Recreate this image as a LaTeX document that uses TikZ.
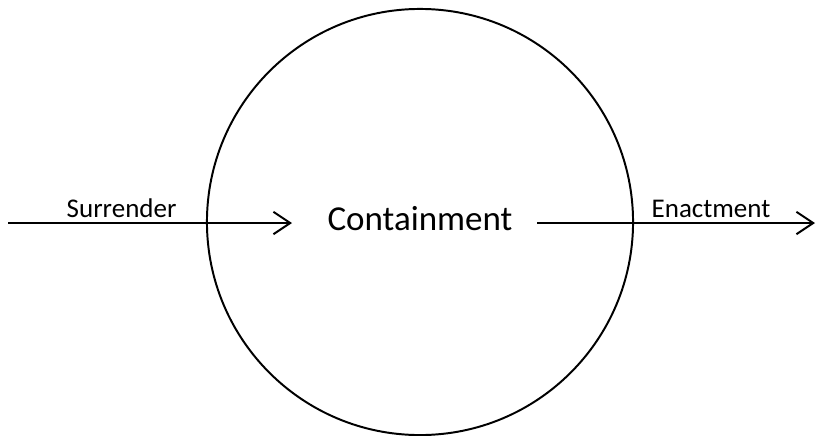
\documentclass[tikz,border=0pt]{standalone}
\usepackage{fontspec}
\setmainfont{Carlito}
\usetikzlibrary{arrows.meta}
\tikzset{
  flow/.style={line width=1.4pt, -{Straight Barb[length=0.42cm,width=0.56cm,line width=1.4pt]}},
  lbl/.style={font=\fontsize{19.2}{23}\selectfont},
}
\begin{document}
\begin{tikzpicture}[x=0.025cm, y=-0.025cm]
    \useasboundingbox (0,0) rectangle (817,435);
    \node[draw, circle, line width=1.4pt, minimum size=10.65cm, inner sep=0pt] (ring) at (420,222) {};
    \node[font=\fontsize{24.9}{30}\selectfont, anchor=base] (core) at (420,230) {Containment};
    \coordinate (src) at (8,223);
    \coordinate (inEnd) at (292,223);
    \coordinate (outStart) at (537,223);
    \coordinate (dst) at (815,223);
    \draw[flow] (src) -- node[lbl, above, pos=0.4] {Surrender} (inEnd);
    \draw[flow] (outStart) -- node[lbl, above, pos=0.626] {Enactment} (dst);
\end{tikzpicture}
\end{document}
